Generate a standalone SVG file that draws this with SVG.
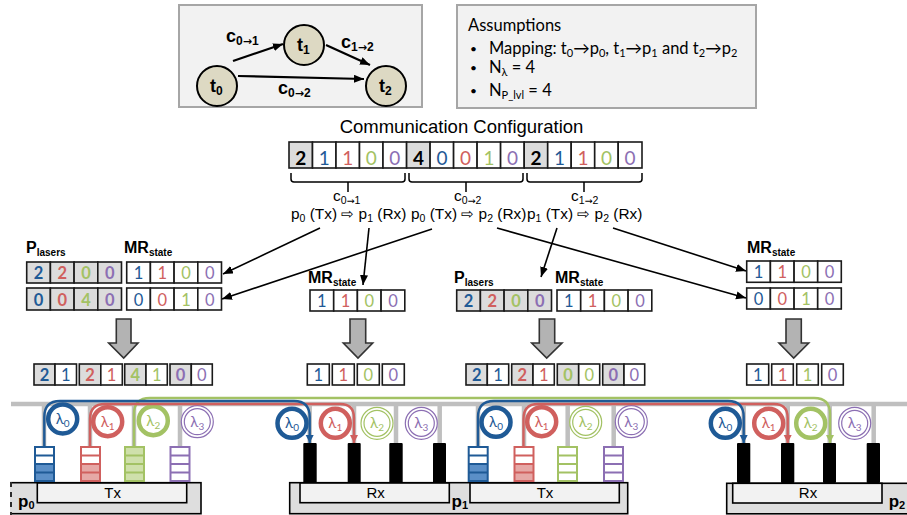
<svg xmlns="http://www.w3.org/2000/svg" width="907" height="515" viewBox="0 0 907 515">
<defs>
<marker id="ah" markerUnits="userSpaceOnUse" markerWidth="12" markerHeight="10" refX="10" refY="4" orient="auto"><path d="M0 0L10 4L0 8z" fill="#000"/></marker>
<marker id="ab" markerUnits="userSpaceOnUse" markerWidth="10" markerHeight="10" refX="8" refY="4" orient="auto"><path d="M0 0L8 4L0 8z" fill="#1f5a96"/></marker>
<marker id="ar" markerUnits="userSpaceOnUse" markerWidth="10" markerHeight="10" refX="8" refY="4" orient="auto"><path d="M0 0L8 4L0 8z" fill="#d0605e"/></marker>
<marker id="ag" markerUnits="userSpaceOnUse" markerWidth="10" markerHeight="10" refX="8" refY="4" orient="auto"><path d="M0 0L8 4L0 8z" fill="#a3c264"/></marker>
</defs>
<style>
text{font-family:"Liberation Sans",Arial,sans-serif;fill:#000}
.box{fill:#f2f2f2;stroke:#a6a6a6;stroke-width:2}
.task{fill:#ddd9c3;stroke:#000;stroke-width:2}
.arr{fill:none;stroke:#000;stroke-width:1.6;marker-end:url(#ah)}
.arrt{fill:none;stroke:#000;stroke-width:2.2;marker-end:url(#ah)}
.c,.g{stroke:#1a1a1a;stroke-width:1.6}
.c{fill:#fff}.g{fill:#dcdcdc}
.d,.db,.big,.bigb,.lam,.as{font-family:Lato,"Open Sans",sans-serif}
.d,.db{font-size:16.5px;text-anchor:middle}
.db{font-weight:700}
.big,.bigb{font-size:19px;text-anchor:middle}
.bigb{font-weight:700}
.b{fill:#1f5a96}.r{fill:#d0605e}.n{fill:#a3c264}.p{fill:#8c6fb3}
.hd{font-weight:700;font-size:16px}
.hds{font-size:10px}
.tl{font-weight:700;font-size:18px}
.tls{font-size:12px}
.ar{font-family:"DejaVu Sans",sans-serif;font-size:11px}
.lb{font-size:15.4px}
.lbs{font-size:10.5px}
.arl{font-family:"DejaVu Sans",sans-serif;font-size:9.5px}
.as{font-size:16.5px}
.bu{font-size:12px}
.brace{fill:none;stroke:#000;stroke-width:1.5}
.blk{fill:#b3b3b3;stroke:#333;stroke-width:1.6}
.bus{stroke:#bfbfbf;stroke-width:4.5;fill:none}
.lam{font-size:15px;text-anchor:middle}
.ring{fill:#fff;stroke-width:4.5}
.dbl{fill:#fff;stroke-width:1.2}
.core{fill:#dedede;stroke:#000;stroke-width:1.6}
.inner{fill:#f2f2f2;stroke:#000;stroke-width:1.6}
.pl{font-size:15px;text-anchor:middle}
.pn{font-weight:700;font-size:17px}
.rx{fill:#000;stroke:none}
.rb{fill:none;stroke:#1f5a96;stroke-width:2.4}
.rr{fill:none;stroke:#d0605e;stroke-width:2.4}
.rg{fill:none;stroke:#a3c264;stroke-width:2.4}
</style>

<g id="task-graph">
<rect class="box" x="179" y="5" width="243" height="102"/>
<rect class="box" x="457" y="5" width="299" height="103"/>
</g>
<g id="task-graph-edges">
<path class="arrt" d="M233 61L283 44"/>
<path class="arrt" d="M326 45L370 65"/>
<path class="arrt" d="M238 76L364 79"/>
</g>
<g id="t0"><circle class="task" cx="217" cy="86" r="20"/><text class="tl" x="210" y="92">t<tspan class="tls" dy="3">0</tspan></text></g>
<g id="t1"><circle class="task" cx="304" cy="45" r="20"/><text class="tl" x="297" y="51">t<tspan class="tls" dy="3">1</tspan></text></g>
<g id="t2"><circle class="task" cx="386" cy="86" r="20"/><text class="tl" x="379" y="92">t<tspan class="tls" dy="3">2</tspan></text></g>
<g id="graph-labels">
<text class="tl" x="226" y="42">c<tspan class="tls" dy="3">0</tspan><tspan class="ar">→</tspan><tspan class="tls">1</tspan></text>
<text class="tl" x="341" y="48">c<tspan class="tls" dy="3">1</tspan><tspan class="ar">→</tspan><tspan class="tls">2</tspan></text>
<text class="tl" x="278" y="94">c<tspan class="tls" dy="3">0</tspan><tspan class="ar">→</tspan><tspan class="tls">2</tspan></text>
</g>

<g id="assumptions">
<text class="as" x="468" y="31">Assumptions</text>
<text class="as bu" x="470" y="53">•</text><text class="as" x="489" y="54">Mapping: t<tspan font-size="11" dy="3">0</tspan><tspan dy="-3">→p</tspan><tspan font-size="11" dy="3">0</tspan><tspan dy="-3">, t</tspan><tspan font-size="11" dy="3">1</tspan><tspan dy="-3">→p</tspan><tspan font-size="11" dy="3">1</tspan><tspan dy="-3"> and t</tspan><tspan font-size="11" dy="3">2</tspan><tspan dy="-3">→p</tspan><tspan font-size="11" dy="3">2</tspan></text>
<text class="as bu" x="470" y="72">•</text><text class="as" x="489" y="73">N<tspan font-size="11" dy="3">λ</tspan><tspan dy="-3"> = 4</tspan></text>
<text class="as bu" x="470" y="95">•</text><text class="as" x="489" y="96">N<tspan font-size="11" dy="3">P_lvl</tspan><tspan dy="-3"> = 4</tspan></text>
</g>

<g id="configuration">
<text x="461.5" y="133" font-size="18.5" text-anchor="middle">Communication Configuration</text>
<rect class="g" x="289" y="142" width="23.5" height="26"/><rect class="c" x="312.5" y="142" width="23.5" height="26"/><rect class="c" x="336" y="142" width="23.5" height="26"/><rect class="c" x="359.5" y="142" width="23.5" height="26"/><rect class="c" x="383" y="142" width="23.6" height="26"/>
<rect class="g" x="406.6" y="142" width="23.5" height="26"/><rect class="c" x="430.1" y="142" width="23.5" height="26"/><rect class="c" x="453.6" y="142" width="23.5" height="26"/><rect class="c" x="477.1" y="142" width="23.5" height="26"/><rect class="c" x="500.6" y="142" width="23.6" height="26"/>
<rect class="g" x="524.2" y="142" width="23.5" height="26"/><rect class="c" x="547.7" y="142" width="23.5" height="26"/><rect class="c" x="571.2" y="142" width="23.5" height="26"/><rect class="c" x="594.7" y="142" width="23.5" height="26"/><rect class="c" x="618.2" y="142" width="23.8" height="26"/>
<text class="bigb" x="300.8" y="165">2</text><text class="big b" x="324.3" y="165">1</text><text class="big r" x="347.8" y="165">1</text><text class="big n" x="371.3" y="165">0</text><text class="big p" x="394.8" y="165">0</text>
<text class="bigb" x="418.4" y="165">4</text><text class="big b" x="441.9" y="165">0</text><text class="big r" x="465.4" y="165">0</text><text class="big n" x="488.9" y="165">1</text><text class="big p" x="512.4" y="165">0</text>
<text class="bigb" x="536" y="165">2</text><text class="big b" x="559.5" y="165">1</text><text class="big r" x="583" y="165">1</text><text class="big n" x="606.5" y="165">0</text><text class="big p" x="630" y="165">0</text>
<path class="brace" d="M291 173V179Q291 182 294 182H402Q405 182 405 179V173M348 182V192"/>
<path class="brace" d="M409 173V179Q409 182 412 182H520Q523 182 523 179V173M466 182V192"/>
<path class="brace" d="M527 173V179Q527 182 530 182H639Q642 182 642 179V173M584 182V192"/>
<text class="lb" x="333" y="201">c<tspan class="lbs" dy="3">0</tspan><tspan class="arl">→</tspan><tspan class="lbs">1</tspan></text>
<text class="lb" x="454" y="201">c<tspan class="lbs" dy="3">0</tspan><tspan class="arl">→</tspan><tspan class="lbs">2</tspan></text>
<text class="lb" x="571" y="201">c<tspan class="lbs" dy="3">1</tspan><tspan class="arl">→</tspan><tspan class="lbs">2</tspan></text>
<text class="lb" x="291" y="219">p<tspan class="lbs" dy="3">0</tspan><tspan dy="-3"> (Tx) ⇨ p</tspan><tspan class="lbs" dy="3">1</tspan><tspan dy="-3"> (Rx)</tspan></text>
<text class="lb" x="411" y="219">p<tspan class="lbs" dy="3">0</tspan><tspan dy="-3"> (Tx) ⇨ p</tspan><tspan class="lbs" dy="3">2</tspan><tspan dy="-3"> (Rx)</tspan></text>
<text class="lb" x="527" y="219">p<tspan class="lbs" dy="3">1</tspan><tspan dy="-3"> (Tx) ⇨ p</tspan><tspan class="lbs" dy="3">2</tspan><tspan dy="-3"> (Rx)</tspan></text>
</g>

<g id="connectors">
<path class="arr" d="M320 228L223 274"/>
<path class="arr" d="M432 229L222 299"/>
<path class="arr" d="M369 228L363 285"/>
<path class="arr" d="M497 228L746 298"/>
<path class="arr" d="M557 228L541 277"/>
<path class="arr" d="M613 228L746 271"/>
</g>

<g id="table-p0">
<text class="hd" x="26" y="253">P<tspan class="hds" dy="3">lasers</tspan></text>
<text class="hd" x="124" y="253">MR<tspan class="hds" dy="3">state</tspan></text>
<rect class="g" x="26.7" y="262" width="23.7" height="21"/><rect class="g" x="50.4" y="262" width="23.7" height="21"/><rect class="g" x="74.1" y="262" width="23.7" height="21"/><rect class="g" x="97.8" y="262" width="23.7" height="21"/>
<rect class="c" x="126.7" y="262" width="23.7" height="21"/><rect class="c" x="150.4" y="262" width="23.7" height="21"/><rect class="c" x="174.1" y="262" width="23.7" height="21"/><rect class="c" x="197.8" y="262" width="23.7" height="21"/>
<rect class="g" x="26.7" y="288" width="23.7" height="22"/><rect class="g" x="50.4" y="288" width="23.7" height="22"/><rect class="g" x="74.1" y="288" width="23.7" height="22"/><rect class="g" x="97.8" y="288" width="23.7" height="22"/>
<rect class="c" x="126.7" y="288" width="23.7" height="22"/><rect class="c" x="150.4" y="288" width="23.7" height="22"/><rect class="c" x="174.1" y="288" width="23.7" height="22"/><rect class="c" x="197.8" y="288" width="23.7" height="22"/>
<text class="db b" x="38.5" y="279">2</text><text class="db r" x="62.2" y="279">2</text><text class="db n" x="86" y="279">0</text><text class="db p" x="109.7" y="279">0</text>
<text class="d b" x="138.5" y="279">1</text><text class="d r" x="162.2" y="279">1</text><text class="d n" x="186" y="279">0</text><text class="d p" x="209.7" y="279">0</text>
<text class="db b" x="38.5" y="306">0</text><text class="db r" x="62.2" y="306">0</text><text class="db n" x="86" y="306">4</text><text class="db p" x="109.7" y="306">0</text>
<text class="d b" x="138.5" y="306">0</text><text class="d r" x="162.2" y="306">0</text><text class="d n" x="186" y="306">1</text><text class="d p" x="209.7" y="306">0</text>
<path class="blk" d="M116.3 319H131V343H138L123.7 358L108.7 343H116.3z"/>
<rect class="g" x="34" y="364" width="21" height="21"/><rect class="c" x="55" y="364" width="21.5" height="21"/><rect class="g" x="79.3" y="364" width="21.5" height="21"/><rect class="c" x="100.8" y="364" width="21.5" height="21"/><rect class="g" x="124.7" y="364" width="21.3" height="21"/><rect class="c" x="146" y="364" width="21.3" height="21"/><rect class="g" x="170" y="364" width="21.3" height="21"/><rect class="c" x="191.3" y="364" width="21" height="21"/>
<text class="db b" x="44.5" y="381">2</text><text class="d b" x="65.8" y="381">1</text><text class="db r" x="90" y="381">2</text><text class="d r" x="111.5" y="381">1</text><text class="db n" x="135.3" y="381">4</text><text class="d n" x="156.7" y="381">1</text><text class="db p" x="180.6" y="381">0</text><text class="d p" x="201.8" y="381">0</text>
</g>

<g id="table-p1-rx">
<text class="hd" x="308" y="283">MR<tspan class="hds" dy="3">state</tspan></text>
<rect class="c" x="310" y="290" width="23.7" height="21"/><rect class="c" x="333.7" y="290" width="23.7" height="21"/><rect class="c" x="357.4" y="290" width="23.7" height="21"/><rect class="c" x="381.1" y="290" width="23.7" height="21"/>
<text class="d b" x="321.8" y="307">1</text><text class="d r" x="345.5" y="307">1</text><text class="d n" x="369.2" y="307">0</text><text class="d p" x="393" y="307">0</text>
<path class="blk" d="M350 319H365.7V343H372.7L358 358L343.3 343H350z"/>
<rect class="c" x="307.3" y="364" width="22" height="21"/><rect class="c" x="332.3" y="364" width="22" height="21"/><rect class="c" x="357.3" y="364" width="22" height="21"/><rect class="c" x="382.3" y="364" width="22" height="21"/>
<text class="d b" x="318.3" y="381">1</text><text class="d r" x="343.3" y="381">1</text><text class="d n" x="368.3" y="381">0</text><text class="d p" x="393.3" y="381">0</text>
</g>

<g id="table-p1-tx">
<text class="hd" x="454" y="283">P<tspan class="hds" dy="3">lasers</tspan></text>
<text class="hd" x="555" y="283">MR<tspan class="hds" dy="3">state</tspan></text>
<rect class="g" x="456.7" y="290" width="23.7" height="21"/><rect class="g" x="480.4" y="290" width="23.7" height="21"/><rect class="g" x="504.1" y="290" width="23.7" height="21"/><rect class="g" x="527.8" y="290" width="23.7" height="21"/>
<rect class="c" x="557" y="290" width="23.7" height="21"/><rect class="c" x="580.7" y="290" width="23.7" height="21"/><rect class="c" x="604.4" y="290" width="23.7" height="21"/><rect class="c" x="628.1" y="290" width="23.7" height="21"/>
<text class="db b" x="468.5" y="307">2</text><text class="db r" x="492.2" y="307">2</text><text class="db n" x="516" y="307">0</text><text class="db p" x="539.7" y="307">0</text>
<text class="d b" x="568.8" y="307">1</text><text class="d r" x="592.5" y="307">1</text><text class="d n" x="616.2" y="307">0</text><text class="d p" x="640" y="307">0</text>
<path class="blk" d="M539.3 319H554.7V343H562L546.7 358L531.7 343H539.3z"/>
<rect class="g" x="466" y="364" width="21.3" height="21"/><rect class="c" x="487.3" y="364" width="21.4" height="21"/><rect class="g" x="511.7" y="364" width="21.3" height="21"/><rect class="c" x="533" y="364" width="21.3" height="21"/><rect class="g" x="557.3" y="364" width="21.4" height="21"/><rect class="c" x="578.7" y="364" width="21" height="21"/><rect class="g" x="602.7" y="364" width="21.3" height="21"/><rect class="c" x="624" y="364" width="20.7" height="21"/>
<text class="db b" x="476.7" y="381">2</text><text class="d b" x="498" y="381">1</text><text class="db r" x="522.3" y="381">2</text><text class="d r" x="543.7" y="381">1</text><text class="db n" x="568" y="381">0</text><text class="d n" x="589.2" y="381">0</text><text class="db p" x="613.3" y="381">0</text><text class="d p" x="634.4" y="381">0</text>
</g>

<g id="table-p2-rx">
<text class="hd" x="747" y="253">MR<tspan class="hds" dy="3">state</tspan></text>
<rect class="c" x="746.7" y="261" width="23.7" height="21.3"/><rect class="c" x="770.4" y="261" width="23.7" height="21.3"/><rect class="c" x="794.1" y="261" width="23.6" height="21.3"/><rect class="c" x="817.7" y="261" width="23.6" height="21.3"/>
<rect class="c" x="746.7" y="288" width="23.7" height="21"/><rect class="c" x="770.4" y="288" width="23.7" height="21"/><rect class="c" x="794.1" y="288" width="23.6" height="21"/><rect class="c" x="817.7" y="288" width="23.6" height="21"/>
<text class="d b" x="758.5" y="278">1</text><text class="d r" x="782.2" y="278">1</text><text class="d n" x="806" y="278">0</text><text class="d p" x="829.5" y="278">0</text>
<text class="d b" x="758.5" y="305">0</text><text class="d r" x="782.2" y="305">0</text><text class="d n" x="806" y="305">1</text><text class="d p" x="829.5" y="305">0</text>
<path class="blk" d="M786 319H801.3V343H808.7L793.7 358L779 343H786z"/>
<rect class="c" x="746.7" y="364" width="22" height="21"/><rect class="c" x="771.7" y="364" width="21.6" height="21"/><rect class="c" x="796.7" y="364" width="21.6" height="21"/><rect class="c" x="821.7" y="364" width="21.6" height="21"/>
<text class="d b" x="757.7" y="381">1</text><text class="d r" x="782.5" y="381">1</text><text class="d n" x="807.5" y="381">1</text><text class="d p" x="832.5" y="381">0</text>
</g>

<g id="bus">
<path class="bus" d="M11 404H907M44 404V446M90 404V446M134 404V446M180 404V446M309.7 404V444M354 404V444M396 404V444M439.7 404V444M478 404V447M524 404V447M567.7 404V447M613.7 404V447M743.7 404V444M787.7 404V444M829.7 404V444M873.7 404V444"/>
</g>

<g id="p0">
<rect class="core" x="11" y="482.7" width="190" height="31"/>
<path d="M11 482V515" stroke="#dedede" stroke-width="2"/><path d="M11 482V515" stroke="#000" stroke-width="1.6" stroke-dasharray="5 5"/>
<rect class="inner" x="37.3" y="483" width="149.4" height="19.7"/>
<text class="pl" x="112.7" y="498">Tx</text>
<text class="pn" x="18" y="507">p<tspan font-size="11" dy="2">0</tspan></text>
<g fill="none" stroke-width="2">
<path d="M35 464h19v17H35z" fill="#5b8fc7"/><path d="M35 447h19v17H35z" fill="#fff"/><path d="M35 447h19v34H35zM35 455.5h19M35 464h19M35 472.5h19" stroke="#1f5a96"/>
<path d="M81 464h19v17H81z" fill="#e6a8a6"/><path d="M81 447h19v17H81z" fill="#fff"/><path d="M81 447h19v34H81zM81 455.5h19M81 464h19M81 472.5h19" stroke="#d0605e"/>
<path d="M125 447h19v34h-19z" fill="#cfe0ab"/><path d="M125 447h19v34h-19zM125 455.5h19M125 464h19M125 472.5h19" stroke="#a3c264"/>
<path d="M170.5 447h19v34h-19z" fill="#fff"/><path d="M170.5 447h19v34h-19zM170.5 455.5h19M170.5 464h19M170.5 472.5h19" stroke="#8c6fb3"/>
</g>
<circle class="ring" cx="62.7" cy="419" r="14.5" stroke="#1f5a96"/><text class="lam b" x="62.7" y="424">λ<tspan font-size="10" dy="3">0</tspan></text>
<circle class="ring" cx="107.7" cy="421.7" r="14.5" stroke="#d0605e"/><text class="lam r" x="107.7" y="426.7">λ<tspan font-size="10" dy="3">1</tspan></text>
<circle class="ring" cx="153.3" cy="420.7" r="14.5" stroke="#a3c264"/><text class="lam n" x="153.3" y="425.7">λ<tspan font-size="10" dy="3">2</tspan></text>
<circle class="dbl" cx="197.3" cy="421.7" r="16" stroke="#8c6fb3"/><circle class="dbl" cx="197.3" cy="421.7" r="13" stroke="#8c6fb3"/><text class="lam p" x="197.3" y="426.7">λ<tspan font-size="10" dy="3">3</tspan></text>
</g>

<g id="p1">
<rect class="core" x="289.7" y="482.7" width="338" height="31"/>
<rect class="inner" x="300" y="483" width="149.3" height="19.7"/><rect class="inner" x="470" y="483" width="149.3" height="19.7"/>
<text class="pl" x="375.7" y="498">Rx</text><text class="pl" x="545" y="498">Tx</text>
<text class="pn" x="451.5" y="507">p<tspan font-size="11" dy="2">1</tspan></text>
<rect class="rx" x="303.3" y="443" width="13.4" height="40" rx="1"/><rect class="rx" x="347.7" y="443" width="13" height="40" rx="1"/><rect class="rx" x="389.3" y="443" width="13.4" height="40" rx="1"/><rect class="rx" x="433" y="443" width="13" height="40" rx="1"/>
<g fill="none" stroke-width="2">
<path d="M468.7 464h19v17h-19z" fill="#5b8fc7"/><path d="M468.7 447h19v17h-19z" fill="#fff"/><path d="M468.7 447h19v34h-19zM468.7 455.5h19M468.7 464h19M468.7 472.5h19" stroke="#1f5a96"/>
<path d="M514.5 464h19v17h-19z" fill="#e6a8a6"/><path d="M514.5 447h19v17h-19z" fill="#fff"/><path d="M514.5 447h19v34h-19zM514.5 455.5h19M514.5 464h19M514.5 472.5h19" stroke="#d0605e"/>
<path d="M558 447h19v34h-19z" fill="#fff"/><path d="M558 447h19v34h-19zM558 455.5h19M558 464h19M558 472.5h19" stroke="#a3c264"/>
<path d="M604 447h19v34h-19z" fill="#fff"/><path d="M604 447h19v34h-19zM604 455.5h19M604 464h19M604 472.5h19" stroke="#8c6fb3"/>
</g>
<circle class="ring" cx="292" cy="423.3" r="14.5" stroke="#1f5a96"/><text class="lam b" x="292" y="428.3">λ<tspan font-size="10" dy="3">0</tspan></text>
<circle class="ring" cx="335.3" cy="423.3" r="14.5" stroke="#d0605e"/><text class="lam r" x="335.3" y="428.3">λ<tspan font-size="10" dy="3">1</tspan></text>
<circle class="dbl" cx="377" cy="423.3" r="16" stroke="#a3c264"/><circle class="dbl" cx="377" cy="423.3" r="13" stroke="#a3c264"/><text class="lam n" x="377" y="428.3">λ<tspan font-size="10" dy="3">2</tspan></text>
<circle class="dbl" cx="421.3" cy="423.3" r="16" stroke="#8c6fb3"/><circle class="dbl" cx="421.3" cy="423.3" r="13" stroke="#8c6fb3"/><text class="lam p" x="421.3" y="428.3">λ<tspan font-size="10" dy="3">3</tspan></text>
<circle class="ring" cx="496" cy="422.3" r="14.5" stroke="#1f5a96"/><text class="lam b" x="496" y="427.3">λ<tspan font-size="10" dy="3">0</tspan></text>
<circle class="ring" cx="541.7" cy="421.7" r="14.5" stroke="#d0605e"/><text class="lam r" x="541.7" y="426.7">λ<tspan font-size="10" dy="3">1</tspan></text>
<circle class="dbl" cx="585.7" cy="422.3" r="16" stroke="#a3c264"/><circle class="dbl" cx="585.7" cy="422.3" r="13" stroke="#a3c264"/><text class="lam n" x="585.7" y="427.3">λ<tspan font-size="10" dy="3">2</tspan></text>
<circle class="dbl" cx="631.3" cy="421.7" r="16" stroke="#8c6fb3"/><circle class="dbl" cx="631.3" cy="421.7" r="13" stroke="#8c6fb3"/><text class="lam p" x="631.3" y="426.7">λ<tspan font-size="10" dy="3">3</tspan></text>
</g>

<g id="p2">
<rect class="core" x="726.7" y="483.3" width="182" height="30.5"/>
<rect class="inner" x="732.7" y="483.3" width="149.3" height="19.7"/>
<text class="pl" x="808" y="498">Rx</text>
<text class="pn" x="888.7" y="507">p<tspan font-size="11" dy="2">2</tspan></text>
<rect class="rx" x="737" y="443" width="13.3" height="40" rx="1"/><rect class="rx" x="781" y="443" width="13.3" height="40" rx="1"/><rect class="rx" x="823" y="443" width="13" height="40" rx="1"/><rect class="rx" x="866.7" y="443" width="13.3" height="40" rx="1"/>
<circle class="ring" cx="725.3" cy="423.3" r="14.5" stroke="#1f5a96"/><text class="lam b" x="725.3" y="428.3">λ<tspan font-size="10" dy="3">0</tspan></text>
<circle class="ring" cx="768.7" cy="423.3" r="14.5" stroke="#d0605e"/><text class="lam r" x="768.7" y="428.3">λ<tspan font-size="10" dy="3">1</tspan></text>
<circle class="ring" cx="810.7" cy="423.3" r="14.5" stroke="#a3c264"/><text class="lam n" x="810.7" y="428.3">λ<tspan font-size="10" dy="3">2</tspan></text>
<circle class="dbl" cx="854.7" cy="423.3" r="16" stroke="#8c6fb3"/><circle class="dbl" cx="854.7" cy="423.3" r="13" stroke="#8c6fb3"/><text class="lam p" x="854.7" y="428.3">λ<tspan font-size="10" dy="3">3</tspan></text>
</g>

<g id="routes">
<path class="rg" d="M134 446V414Q134 398 150 398H814Q830 398 830 414V443" marker-end="url(#ag)"/>
<path class="rr" d="M90 446V419Q90 404 105 404H340Q354 404 354 418V443" marker-end="url(#ar)"/>
<path class="rb" d="M44.3 446V417Q44.3 401 60 401H294Q309.7 401 309.7 417V443" marker-end="url(#ab)"/>
<path class="rr" d="M523.5 447V419Q523.5 404 538 404H774Q787.7 404 787.7 418V443" marker-end="url(#ar)"/>
<path class="rb" d="M478 447V417Q478 401 494 401H728Q743.7 401 743.7 417V443" marker-end="url(#ab)"/>
</g>
</svg>
